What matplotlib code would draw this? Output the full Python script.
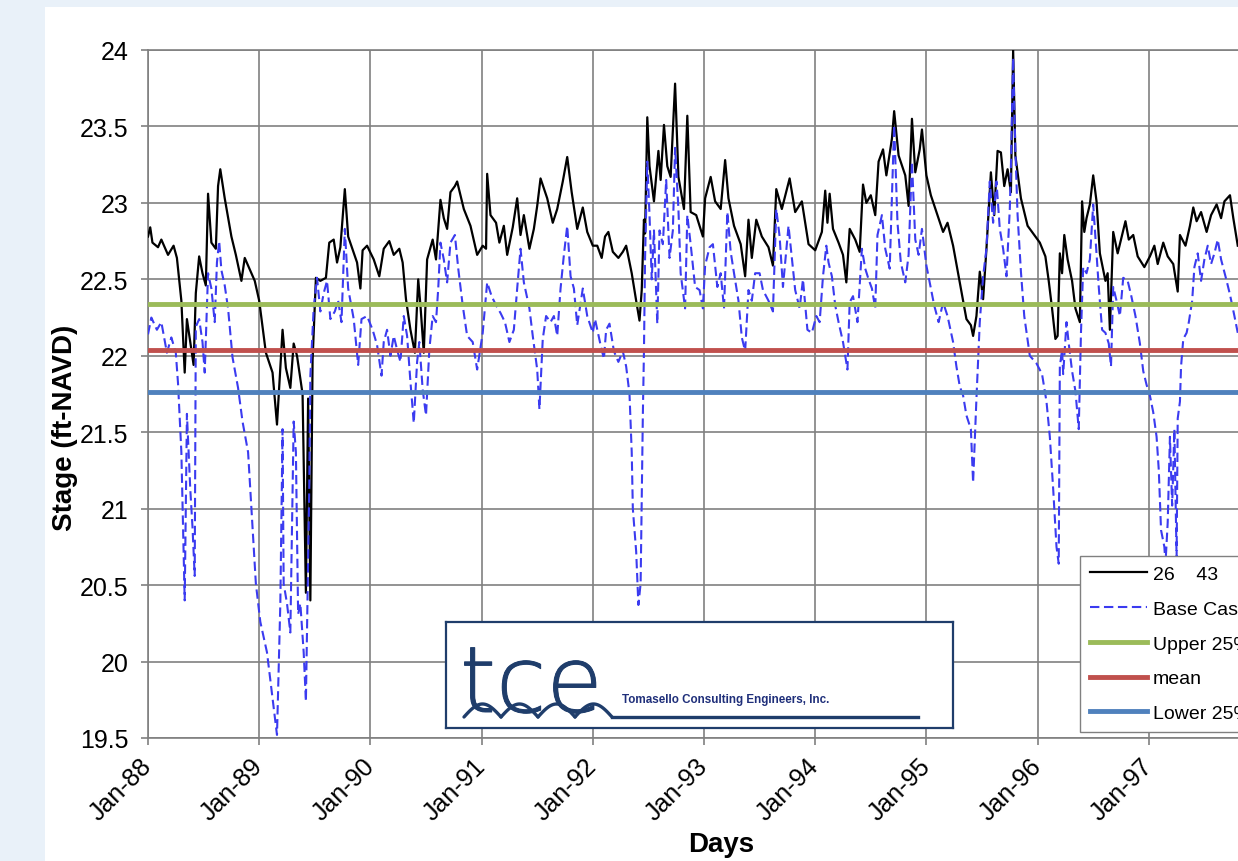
"""
Estágio (ft-NAVD) da estação 26 43 e do Base Case, 1988-1997, com as faixas de 25% e a média.
"""

import numpy as np
import matplotlib
matplotlib.use('Agg')
from matplotlib import pyplot as plt
from matplotlib import patheffects
from matplotlib.patches import Rectangle

# ---------------- dados ----------------
# série observada "26    43" (anos decimais, estágio em ft-NAVD)
year_26_43 = [
    1988.00, 1988.02, 1988.04, 1988.09, 1988.12, 1988.18, 1988.23, 1988.26, 1988.30, 1988.33,
    1988.35, 1988.39, 1988.41, 1988.43, 1988.46, 1988.49, 1988.52, 1988.54, 1988.57, 1988.61,
    1988.63, 1988.65, 1988.69, 1988.75, 1988.79, 1988.84, 1988.87, 1988.96, 1989.00, 1989.06,
    1989.12, 1989.16, 1989.21, 1989.24, 1989.28, 1989.31, 1989.34, 1989.39, 1989.42, 1989.44,
    1989.46, 1989.48, 1989.51, 1989.55, 1989.60, 1989.63, 1989.67, 1989.70, 1989.73, 1989.77,
    1989.80, 1989.88, 1989.91, 1989.93, 1989.97, 1990.03, 1990.08, 1990.12, 1990.17, 1990.21,
    1990.26, 1990.29, 1990.32, 1990.36, 1990.40, 1990.43, 1990.45, 1990.48, 1990.51, 1990.56,
    1990.59, 1990.63, 1990.66, 1990.69, 1990.72, 1990.76, 1990.78, 1990.84, 1990.90, 1990.96,
    1991.01, 1991.04, 1991.05, 1991.08, 1991.13, 1991.16, 1991.20, 1991.23, 1991.28, 1991.32,
    1991.35, 1991.38, 1991.43, 1991.47, 1991.50, 1991.53, 1991.59, 1991.64, 1991.68, 1991.73,
    1991.77, 1991.81, 1991.86, 1991.91, 1991.95, 1992.00, 1992.04, 1992.08, 1992.11, 1992.14,
    1992.18, 1992.23, 1992.27, 1992.30, 1992.35, 1992.39, 1992.42, 1992.44, 1992.46, 1992.47,
    1992.49, 1992.51, 1992.55, 1992.59, 1992.61, 1992.64, 1992.67, 1992.70, 1992.74, 1992.77,
    1992.82, 1992.85, 1992.88, 1992.93, 1992.99, 1993.01, 1993.06, 1993.10, 1993.15, 1993.19,
    1993.22, 1993.27, 1993.33, 1993.37, 1993.40, 1993.43, 1993.47, 1993.52, 1993.58, 1993.62,
    1993.65, 1993.70, 1993.77, 1993.82, 1993.88, 1993.94, 1994.00, 1994.06, 1994.09, 1994.11,
    1994.13, 1994.16, 1994.21, 1994.25, 1994.28, 1994.31, 1994.36, 1994.40, 1994.43, 1994.46,
    1994.50, 1994.54, 1994.57, 1994.61, 1994.64, 1994.69, 1994.71, 1994.75, 1994.81, 1994.84,
    1994.87, 1994.90, 1994.94, 1994.96, 1995.00, 1995.04, 1995.10, 1995.15, 1995.19, 1995.24,
    1995.30, 1995.36, 1995.40, 1995.42, 1995.45, 1995.48, 1995.51, 1995.54, 1995.58, 1995.61,
    1995.64, 1995.67, 1995.70, 1995.73, 1995.76, 1995.78, 1995.80, 1995.85, 1995.91, 1995.96,
    1996.02, 1996.07, 1996.10, 1996.13, 1996.16, 1996.18, 1996.20, 1996.22, 1996.24, 1996.27,
    1996.31, 1996.34, 1996.38, 1996.40, 1996.42, 1996.44, 1996.47, 1996.50, 1996.53, 1996.56,
    1996.61, 1996.63, 1996.65, 1996.68, 1996.72, 1996.75, 1996.79, 1996.82, 1996.86, 1996.90,
    1996.96, 1997.01, 1997.05, 1997.08, 1997.13, 1997.17, 1997.22, 1997.26, 1997.28, 1997.33,
    1997.37, 1997.40, 1997.43, 1997.47, 1997.52, 1997.56, 1997.61, 1997.65, 1997.68, 1997.73,
    1997.76, 1997.80,
]
stage_26_43 = [
    22.78, 22.84, 22.74, 22.71, 22.76, 22.66, 22.72, 22.64, 22.36, 21.89,
    22.24, 22.04, 21.94, 22.41, 22.65, 22.54, 22.46, 23.06, 22.74, 22.70,
    23.11, 23.22, 23.03, 22.78, 22.66, 22.49, 22.64, 22.49, 22.36, 22.02,
    21.89, 21.55, 22.17, 21.92, 21.79, 22.08, 22.00, 21.75, 20.45, 21.72,
    20.40, 21.97, 22.51, 22.49, 22.51, 22.74, 22.76, 22.61, 22.71, 23.09,
    22.78, 22.61, 22.44, 22.69, 22.72, 22.63, 22.52, 22.70, 22.75, 22.66,
    22.70, 22.61, 22.37, 22.17, 22.02, 22.50, 22.33, 22.02, 22.63, 22.76,
    22.63, 23.02, 22.90, 22.83, 23.07, 23.11, 23.14, 22.96, 22.85, 22.66,
    22.72, 22.70, 23.19, 22.92, 22.87, 22.74, 22.85, 22.66, 22.84, 23.03,
    22.79, 22.92, 22.70, 22.83, 22.98, 23.16, 23.03, 22.87, 22.96, 23.14,
    23.30, 23.07, 22.83, 22.97, 22.81, 22.72, 22.72, 22.64, 22.78, 22.81,
    22.68, 22.64, 22.68, 22.72, 22.54, 22.36, 22.23, 22.43, 22.89, 22.80,
    23.56, 23.24, 23.01, 23.34, 23.15, 23.51, 23.24, 23.17, 23.78, 23.17,
    22.96, 23.57, 22.94, 22.92, 22.78, 23.03, 23.17, 23.01, 22.96, 23.28,
    23.03, 22.85, 22.73, 22.52, 22.89, 22.64, 22.89, 22.78, 22.71, 22.59,
    23.09, 22.96, 23.16, 22.94, 23.01, 22.73, 22.69, 22.81, 23.08, 22.87,
    23.06, 22.83, 22.74, 22.66, 22.48, 22.83, 22.76, 22.68, 23.12, 23.00,
    23.05, 22.92, 23.27, 23.35, 23.18, 23.42, 23.60, 23.31, 23.18, 22.98,
    23.55, 23.20, 23.35, 23.48, 23.18, 23.05, 22.92, 22.81, 22.87, 22.72,
    22.48, 22.24, 22.20, 22.13, 22.26, 22.55, 22.37, 22.70, 23.20, 22.92,
    23.34, 23.33, 23.11, 23.22, 23.07, 24.00, 23.31, 23.03, 22.85, 22.80,
    22.74, 22.65, 22.49, 22.31, 22.11, 22.13, 22.67, 22.54, 22.79, 22.63,
    22.49, 22.31, 22.22, 23.01, 22.81, 22.90, 22.99, 23.18, 23.01, 22.67,
    22.49, 22.54, 22.17, 22.81, 22.67, 22.76, 22.88, 22.76, 22.79, 22.65,
    22.58, 22.65, 22.72, 22.60, 22.74, 22.65, 22.60, 22.42, 22.79, 22.72,
    22.85, 22.97, 22.88, 22.94, 22.81, 22.92, 22.99, 22.90, 23.01, 23.05,
    22.90, 22.72,
]

# série simulada "Base Case"
year_base = [
    1988.00, 1988.03, 1988.08, 1988.12, 1988.17, 1988.21, 1988.25, 1988.27, 1988.30, 1988.33,
    1988.35, 1988.38, 1988.40, 1988.42, 1988.43, 1988.46, 1988.49, 1988.51, 1988.54, 1988.57,
    1988.60, 1988.62, 1988.64, 1988.66, 1988.69, 1988.72, 1988.76, 1988.81, 1988.85, 1988.90,
    1988.93, 1988.97, 1989.01, 1989.07, 1989.12, 1989.16, 1989.19, 1989.21, 1989.22, 1989.25,
    1989.28, 1989.31, 1989.33, 1989.35, 1989.37, 1989.40, 1989.42, 1989.45, 1989.46, 1989.49,
    1989.52, 1989.55, 1989.58, 1989.61, 1989.64, 1989.68, 1989.71, 1989.74, 1989.77, 1989.80,
    1989.85, 1989.89, 1989.92, 1989.97, 1990.02, 1990.06, 1990.10, 1990.12, 1990.15, 1990.18,
    1990.21, 1990.24, 1990.27, 1990.30, 1990.33, 1990.36, 1990.39, 1990.42, 1990.44, 1990.47,
    1990.50, 1990.53, 1990.56, 1990.59, 1990.61, 1990.63, 1990.66, 1990.69, 1990.72, 1990.76,
    1990.79, 1990.83, 1990.87, 1990.92, 1990.96, 1991.01, 1991.05, 1991.09, 1991.13, 1991.17,
    1991.21, 1991.25, 1991.29, 1991.32, 1991.35, 1991.38, 1991.43, 1991.46, 1991.50, 1991.52,
    1991.55, 1991.58, 1991.62, 1991.65, 1991.68, 1991.71, 1991.74, 1991.77, 1991.80, 1991.83,
    1991.86, 1991.91, 1991.95, 1992.00, 1992.02, 1992.07, 1992.10, 1992.12, 1992.15, 1992.19,
    1992.23, 1992.27, 1992.30, 1992.33, 1992.35, 1992.36, 1992.39, 1992.41, 1992.43, 1992.45,
    1992.46, 1992.47, 1992.49, 1992.51, 1992.53, 1992.55, 1992.58, 1992.60, 1992.63, 1992.66,
    1992.69, 1992.72, 1992.74, 1992.77, 1992.79, 1992.83, 1992.85, 1992.88, 1992.92, 1992.96,
    1992.99, 1993.01, 1993.05, 1993.08, 1993.12, 1993.15, 1993.18, 1993.21, 1993.24, 1993.27,
    1993.31, 1993.34, 1993.37, 1993.40, 1993.43, 1993.46, 1993.50, 1993.53, 1993.58, 1993.62,
    1993.65, 1993.68, 1993.71, 1993.76, 1993.79, 1993.82, 1993.86, 1993.89, 1993.93, 1993.97,
    1994.01, 1994.04, 1994.07, 1994.10, 1994.12, 1994.15, 1994.18, 1994.21, 1994.25, 1994.29,
    1994.31, 1994.34, 1994.38, 1994.42, 1994.45, 1994.48, 1994.51, 1994.54, 1994.56, 1994.60,
    1994.63, 1994.67, 1994.69, 1994.71, 1994.74, 1994.77, 1994.81, 1994.84, 1994.87, 1994.90,
    1994.93, 1994.96, 1995.00, 1995.04, 1995.07, 1995.11, 1995.15, 1995.19, 1995.24, 1995.27,
    1995.30, 1995.33, 1995.36, 1995.40, 1995.42, 1995.45, 1995.48, 1995.51, 1995.54, 1995.57,
    1995.60, 1995.63, 1995.66, 1995.69, 1995.72, 1995.75, 1995.76, 1995.78, 1995.80, 1995.82,
    1995.85, 1995.88, 1995.93, 1995.99, 1996.04, 1996.08, 1996.11, 1996.14, 1996.17, 1996.19,
    1996.20, 1996.22, 1996.23, 1996.26, 1996.28, 1996.31, 1996.34, 1996.37, 1996.39, 1996.41,
    1996.44, 1996.47, 1996.50, 1996.53, 1996.55, 1996.58, 1996.61, 1996.64, 1996.66, 1996.68,
    1996.71, 1996.74, 1996.77, 1996.81, 1996.84, 1996.88, 1996.92, 1996.95, 1996.98, 1997.01,
    1997.04, 1997.07, 1997.09, 1997.11, 1997.14, 1997.15, 1997.17, 1997.19, 1997.21, 1997.23,
    1997.25, 1997.26, 1997.28, 1997.29, 1997.31, 1997.34, 1997.36, 1997.39, 1997.41, 1997.44,
    1997.47, 1997.50, 1997.53, 1997.56, 1997.59, 1997.62, 1997.65, 1997.70, 1997.73, 1997.77,
    1997.80,
]
stage_base = [
    22.14, 22.25, 22.17, 22.22, 22.02, 22.12, 22.02, 21.82, 21.37, 20.40,
    21.62, 21.13, 20.88, 20.56, 22.19, 22.24, 22.09, 21.89, 22.54, 22.44,
    22.22, 22.61, 22.75, 22.56, 22.46, 22.31, 21.99, 21.79, 21.57, 21.37,
    21.00, 20.51, 20.26, 20.06, 19.76, 19.52, 20.38, 21.52, 20.51, 20.38,
    20.19, 21.57, 21.37, 20.31, 20.38, 20.06, 19.74, 21.13, 21.87, 22.31,
    22.51, 22.29, 22.41, 22.49, 22.24, 22.29, 22.36, 22.22, 22.83, 22.44,
    22.24, 21.94, 22.24, 22.26, 22.17, 22.07, 21.87, 22.09, 22.17, 22.00,
    22.13, 22.04, 21.96, 22.26, 22.13, 21.83, 21.56, 21.96, 22.09, 21.78,
    21.61, 22.04, 22.26, 22.22, 22.44, 22.74, 22.63, 22.48, 22.74, 22.79,
    22.57, 22.33, 22.13, 22.09, 21.91, 22.15, 22.48, 22.39, 22.33, 22.28,
    22.22, 22.09, 22.17, 22.44, 22.70, 22.48, 22.31, 22.13, 21.91, 21.65,
    22.11, 22.26, 22.22, 22.26, 22.13, 22.44, 22.66, 22.85, 22.52, 22.44,
    22.20, 22.44, 22.26, 22.15, 22.24, 22.07, 21.98, 22.17, 22.21, 22.03,
    21.96, 22.03, 21.93, 21.75, 21.37, 21.00, 20.72, 20.37, 20.51, 21.61,
    22.03, 22.64, 23.27, 22.92, 22.50, 22.82, 22.21, 22.82, 22.73, 23.15,
    22.64, 22.82, 23.36, 22.96, 22.54, 22.31, 22.92, 22.73, 22.45, 22.43,
    22.31, 22.59, 22.71, 22.73, 22.45, 22.54, 22.31, 22.94, 22.68, 22.54,
    22.36, 22.12, 22.03, 22.43, 22.36, 22.54, 22.54, 22.43, 22.36, 22.29,
    22.96, 22.78, 22.45, 22.85, 22.64, 22.43, 22.31, 22.50, 22.17, 22.15,
    22.26, 22.22, 22.52, 22.72, 22.61, 22.52, 22.33, 22.22, 22.09, 21.91,
    22.35, 22.39, 22.22, 22.70, 22.57, 22.50, 22.44, 22.31, 22.79, 22.92,
    22.70, 22.57, 23.03, 23.51, 22.87, 22.61, 22.48, 22.66, 23.27, 22.76,
    22.66, 22.83, 22.59, 22.44, 22.33, 22.22, 22.35, 22.26, 22.09, 21.93,
    21.80, 21.74, 21.61, 21.52, 21.17, 21.72, 22.22, 22.52, 22.70, 23.14,
    22.87, 23.14, 22.83, 22.70, 22.52, 22.96, 23.24, 23.95, 23.35, 22.92,
    22.55, 22.26, 22.00, 21.95, 21.88, 21.70, 21.47, 21.13, 20.75, 20.64,
    21.93, 22.04, 21.88, 22.22, 22.08, 21.90, 21.77, 21.52, 22.15, 22.58,
    22.54, 22.63, 22.99, 22.67, 22.45, 22.17, 22.15, 22.08, 21.93, 22.45,
    22.36, 22.26, 22.51, 22.49, 22.40, 22.26, 22.08, 21.90, 21.81, 21.74,
    21.63, 21.47, 21.25, 20.86, 20.75, 20.64, 20.91, 21.47, 21.02, 21.52,
    20.68, 21.59, 21.70, 21.93, 22.11, 22.15, 22.22, 22.36, 22.58, 22.67,
    22.49, 22.63, 22.72, 22.60, 22.67, 22.76, 22.63, 22.49, 22.40, 22.26,
    22.15,
]

# linhas de referência
upper_25 = 22.34
mean_stage = 22.04
lower_25 = 21.76

tick_years = list(range(1988, 1998))
tick_labels = ['Jan-%02d' % (y % 100) for y in tick_years]
y_ticks = [19.5, 20, 20.5, 21, 21.5, 22, 22.5, 23, 23.5, 24]

# ---------------- figura ----------------
plt.rcParams['font.family'] = ['Liberation Sans', 'DejaVu Sans']

W, H = 1238, 862
fig = plt.figure(figsize=(W / 100, H / 100), dpi=100, facecolor='#e9f1f9')
# painel branco sobre o fundo azulado
fig.add_artist(Rectangle((45 / W, 0), 1, 1 - 8 / H, transform=fig.transFigure,
                         facecolor='white', edgecolor='none', zorder=0))

# o eixo passa da borda direita da figura (o original está cortado)
ax = fig.add_axes([148 / W, 1 - 739 / H, 1112 / W, 688 / H])
ax.set_facecolor('white')

ax.plot(year_26_43, stage_26_43, color='black', lw=1.6, label='26    43', zorder=3)
ax.plot(year_base, stage_base, color='#3b3bf0', lw=1.5, ls=(0, (4.5, 2.2)),
        label='Base Case', zorder=4)
ax.axhline(upper_25, color='#9bbb59', lw=3.5, label='Upper 25%', zorder=5)
ax.axhline(mean_stage, color='#c0504d', lw=3.5, label='mean', zorder=5)
ax.axhline(lower_25, color='#4f81bd', lw=3.5, label='Lower 25%', zorder=5)

ax.set_xlim(1988, 1998)
ax.set_ylim(19.5, 24)
ax.set_xticks(tick_years + [1998])
ax.set_xticklabels(tick_labels + [''], rotation=45, ha='right', va='center',
                   rotation_mode='anchor', fontsize=18)
ax.set_yticks(y_ticks)
ax.set_yticklabels(['%g' % v for v in y_ticks], fontsize=18)
ax.tick_params(axis='both', direction='out', length=5, width=1.2, color='#808080')
ax.tick_params(axis='y', pad=9)
ax.tick_params(axis='x', pad=12)
ax.grid(True, color='#808080', lw=1.2)
ax.set_axisbelow(True)
for s in ax.spines.values():
    s.set_color('#808080')
    s.set_linewidth(1.2)

leg = ax.legend(loc='lower left', bbox_to_anchor=(0.838, 0.009), borderaxespad=0,
                fontsize=14, handlelength=2.95, handletextpad=0.3, labelspacing=0.88,
                borderpad=0.5, fancybox=False, framealpha=1, edgecolor='#808080')
leg.get_frame().set_linewidth(1.0)

fig.text(65 / W, 1 - 428 / H, 'Stage (ft-NAVD)', rotation=90, fontsize=20,
         fontweight='bold', ha='center', va='center')
fig.text(721 / W, 1 - 845 / H, 'Days', fontsize=20, fontweight='bold',
         ha='center', va='center')

# ---------------- logotipo ----------------
navy = '#1f3d6b'
lax = fig.add_axes([446 / W, 1 - 729 / H, 507 / W, 106 / H])
lax.set_xlim(0, 507)
lax.set_ylim(106, 0)
lax.set_xticks([])
lax.set_yticks([])
lax.set_facecolor('white')
for s in lax.spines.values():
    s.set_color(navy)
    s.set_linewidth(1.6)
lax.text(14, 90, 'tce', fontsize=66, color=navy, fontweight=200,
         family='DejaVu Sans', va='baseline', ha='left',
         path_effects=[patheffects.withStroke(linewidth=0.7, foreground=navy)])
# ondas sob as letras
t = np.linspace(0, 1, 40)
for k in range(4):
    lax.plot(18 + 37 * (k + t), 95 - 13 * np.sin(np.pi * t), color=navy, lw=2.4,
             solid_capstyle='round')
lax.plot([166, 472], [95, 95], color=navy, lw=2.4)
lax.text(176, 80, 'Tomasello Consulting Engineers, Inc.', fontsize=8.4,
         fontweight='bold', color='#1f2f7a', va='baseline', ha='left')

fig.savefig('out.png', dpi=100, facecolor=fig.get_facecolor())
